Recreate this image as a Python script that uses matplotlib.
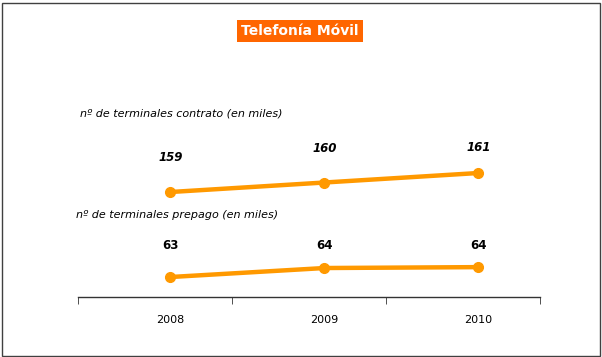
import numpy as np
import matplotlib
matplotlib.use("Agg")
import matplotlib.pyplot as plt
from matplotlib.patches import Rectangle

years = ["2008", "2009", "2010"]
contrato = [159.0, 160.0, 161.0]
contrato_labels = ["159", "160", "161"]
prepago = [63.0, 64.0, 64.1]
prepago_labels = ["63", "64", "64"]

orange = "#FF9900"
W, H = 602, 357

fig = plt.figure(figsize=(W / 100, H / 100), dpi=100)
fig.patch.set_facecolor("white")

# outer frame
fig.add_artist(Rectangle((1.5 / W, 1.5 / H), (W - 4) / W, (H - 4) / H,
                         transform=fig.transFigure, fill=False,
                         edgecolor="#404040", linewidth=1.0))

x = np.arange(len(years))


def px_axes(left, top, right, bottom):
    # axes from pixel box (top-left origin)
    return fig.add_axes([left / W, 1 - bottom / H, (right - left) / W, (bottom - top) / H])


# bottom axes: prepago + year axis
ax_b = px_axes(78, 200, 540, 297)
ax_b.plot(x, prepago, color=orange, lw=3.2, marker="o", ms=7, solid_capstyle="round")
# labels sit on one line above the series
lab_tr = ax_b.get_xaxis_transform()
for xi, lab in zip(x, prepago_labels):
    ax_b.text(xi, 0.535, lab, transform=lab_tr, ha="center", va="center",
              fontsize=8.5, fontweight="bold")
ax_b.set_xlim(-0.6, 2.4)
ax_b.set_ylim(60.78, 71.56)
for s in ["top", "right", "left"]:
    ax_b.spines[s].set_visible(False)
ax_b.spines["bottom"].set_color("#333333")
ax_b.spines["bottom"].set_linewidth(1.0)
ax_b.set_yticks([])
ax_b.set_xticks(x)
ax_b.set_xticklabels(years, fontsize=8)
ax_b.set_xticks([-0.6, 0.4, 1.4, 2.4], minor=True)
ax_b.tick_params(axis="x", which="major", length=0, pad=13)
ax_b.tick_params(axis="x", which="minor", length=5, color="#333333")
ax_b.patch.set_visible(False)
ax_b.text(-0.005, 0.845, "nº de terminales prepago (en miles)", transform=ax_b.transAxes,
          fontsize=8, fontstyle="italic", va="center", ha="left")

# top axes: contrato
ax_t = px_axes(78, 100, 540, 200)
ax_t.plot(x, contrato, color=orange, lw=3.2, marker="o", ms=7, solid_capstyle="round")
label_offsets = [20, 20, 14]
for xi, v, lab, off in zip(x, contrato, contrato_labels, label_offsets):
    ax_t.annotate(lab, (xi, v), xytext=(0, off), textcoords="offset points",
                  ha="center", va="bottom", fontsize=8.5, fontweight="bold",
                  fontstyle="italic")
ax_t.set_xlim(-0.6, 2.4)
ax_t.set_ylim(158.16, 168.68)
ax_t.axis("off")
ax_t.text(0.005, 0.87, "nº de terminales contrato (en miles)", transform=ax_t.transAxes,
          fontsize=8, fontstyle="italic", va="center", ha="left")

# title box
fig.text(300 / W, 1 - 31 / H, "Telefonía Móvil", ha="center", va="center",
         fontsize=10, fontweight="bold", color="white",
         bbox=dict(boxstyle="square,pad=0.3", facecolor="#FF6600", edgecolor="none"))

fig.savefig("out.png", dpi=100)
